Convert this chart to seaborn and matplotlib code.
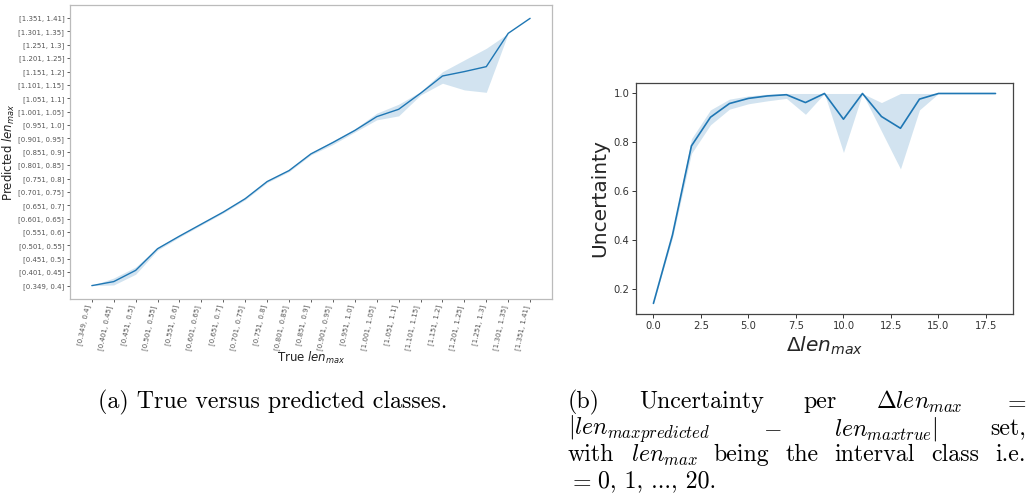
import numpy as np
import pandas as pd
import seaborn as sns
import matplotlib.pyplot as plt

# left panel: class labels and predicted class (mean + band)
classes = ["[0.349, 0.4]", "[0.401, 0.45]", "[0.451, 0.5]", "[0.501, 0.55]",
           "[0.551, 0.6]", "[0.601, 0.65]", "[0.651, 0.7]", "[0.701, 0.75]",
           "[0.751, 0.8]", "[0.801, 0.85]", "[0.851, 0.9]", "[0.901, 0.95]",
           "[0.951, 1.0]", "[1.001, 1.05]", "[1.051, 1.1]", "[1.101, 1.15]",
           "[1.151, 1.2]", "[1.201, 1.25]", "[1.251, 1.3]", "[1.301, 1.35]",
           "[1.351, 1.41]"]
pred_mean = [0.0, 0.30, 1.14, 2.76, 3.70, 4.60, 5.50, 6.50, 7.78, 8.60, 9.85,
             10.70, 11.60, 12.63, 13.18, 14.38, 15.67, 16.00, 16.37, 18.86, 19.98]
pred_lo = [0.0, 0.05, 0.85, 2.65, 3.62, 4.53, 5.43, 6.42, 7.70, 8.52, 9.77,
           10.55, 11.48, 12.39, 12.69, 14.25, 15.13, 14.63, 14.45, 18.86, 19.98]
pred_hi = [0.0, 0.57, 1.39, 2.85, 3.78, 4.67, 5.57, 6.58, 7.86, 8.68, 9.93,
           10.82, 11.72, 12.89, 13.56, 14.50, 15.99, 16.87, 17.74, 18.86, 19.98]

# right panel: uncertainty per delta len_max
delta = list(range(19))
unc_mean = [0.143, 0.422, 0.786, 0.903, 0.959, 0.980, 0.990, 0.995, 0.963, 1.0,
            0.895, 1.0, 0.906, 0.858, 0.977, 1.0, 1.0, 1.0, 1.0]
unc_lo = [0.143, 0.410, 0.755, 0.872, 0.936, 0.958, 0.970, 0.980, 0.915, 1.0,
          0.759, 1.0, 0.846, 0.692, 0.933, 1.0, 1.0, 1.0, 1.0]
unc_hi = [0.143, 0.435, 0.815, 0.933, 0.977, 0.990, 0.997, 1.0, 1.0, 1.0,
          1.0, 1.0, 0.963, 1.0, 1.0, 1.0, 1.0, 1.0, 1.0]

sns.set_style("ticks")
plt.rcParams["mathtext.fontset"] = "dejavusans"
blue = "#1f77b4"

fig = plt.figure(figsize=(10.28, 5.03), dpi=100)
ax1 = fig.add_axes([0.068, 0.4056, 0.469, 0.5845])
ax2 = fig.add_axes([0.619, 0.376, 0.366, 0.459])

# (a)
pos = np.arange(len(classes))
df1 = pd.DataFrame({"true": pos, "pred": pred_mean})
sns.lineplot(data=df1, x="true", y="pred", ax=ax1, color=blue, lw=1)
ax1.fill_between(pos, pred_lo, pred_hi, color=blue, alpha=0.2, lw=0)
ax1.set_xticks(pos)
ax1.set_xticklabels(classes, rotation=78, ha="right",
                    fontsize=5.0, color="#555555")
ax1.set_yticks(pos)
ax1.set_yticklabels(classes, fontsize=5.0, color="#555555")
ax1.set_xlabel("True $len_{max}$", fontsize=8.5, color="#222222")
ax1.xaxis.set_label_coords(0.5, -0.172)
ax1.set_ylabel("Predicted $len_{max}$", fontsize=8.5, color="#222222")
ax1.yaxis.set_label_coords(-0.11, 0.5)
ax1.tick_params(length=2.5, width=0.6, color="#444444", pad=1.5)
for s in ax1.spines.values():
    s.set_color("#bbbbbb")
    s.set_linewidth(0.9)

# (b)
df2 = pd.DataFrame({"delta": delta, "unc": unc_mean})
sns.lineplot(data=df2, x="delta", y="unc", ax=ax2, color=blue, lw=1.2)
ax2.fill_between(delta, unc_lo, unc_hi, color=blue, alpha=0.2, lw=0)
ax2.set_yticks([0.2, 0.4, 0.6, 0.8, 1.0])
ax2.set_xticks(np.arange(0, 18.1, 2.5))
ax2.tick_params(labelsize=7.2, labelcolor="#333333", length=3, width=0.7,
                color="#333333", pad=2)
ax2.set_xlabel(r"$\Delta len_{max}$", fontsize=14.5, labelpad=3)
ax2.set_ylabel("Uncertainty", fontsize=14.5, labelpad=3)
for s in ax2.spines.values():
    s.set_color("#444444")
    s.set_linewidth(0.9)

# captions (serif, Computer Modern)
cap = dict(family="cmr10", fontsize=17.2, color="black", va="center",
           math_fontfamily="cm")
fig.text(98 / 1028, 1 - 402 / 503, "(a) True versus predicted classes.", **cap)

lines_b = [
    ["(b)", "Uncertainty", "per", r"$\Delta len_{max}$", "$=$"],
    [r"$|len_{maxpredicted}$", "$-$", r"$len_{maxtrue}|$", "set,"],
    ["with", "$len_{max}$", "being", "the", "interval", "class", "i.e."],
]
ys = [402, 429, 455]
x_left, x_right = 568 / 1028, 1026 / 1028
renderer = fig.canvas.get_renderer()
for words, y in zip(lines_b, ys):
    texts = [fig.text(x_left, 1 - y / 503, w, **cap) for w in words]
    widths = [t.get_window_extent(renderer).width / fig.bbox.width for t in texts]
    gap = (x_right - x_left - sum(widths)) / (len(words) - 1)
    x = x_left
    for t, w in zip(texts, widths):
        t.set_x(x)
        x += w + gap
eq = fig.text(x_left, 1 - 481 / 503, "$=$", **cap)
eq_w = eq.get_window_extent(renderer).width / fig.bbox.width
fig.text(x_left + eq_w + 0.006, 1 - 481 / 503, "0, 1, ..., 20.", **cap)

fig.savefig("out.png", dpi=100)
